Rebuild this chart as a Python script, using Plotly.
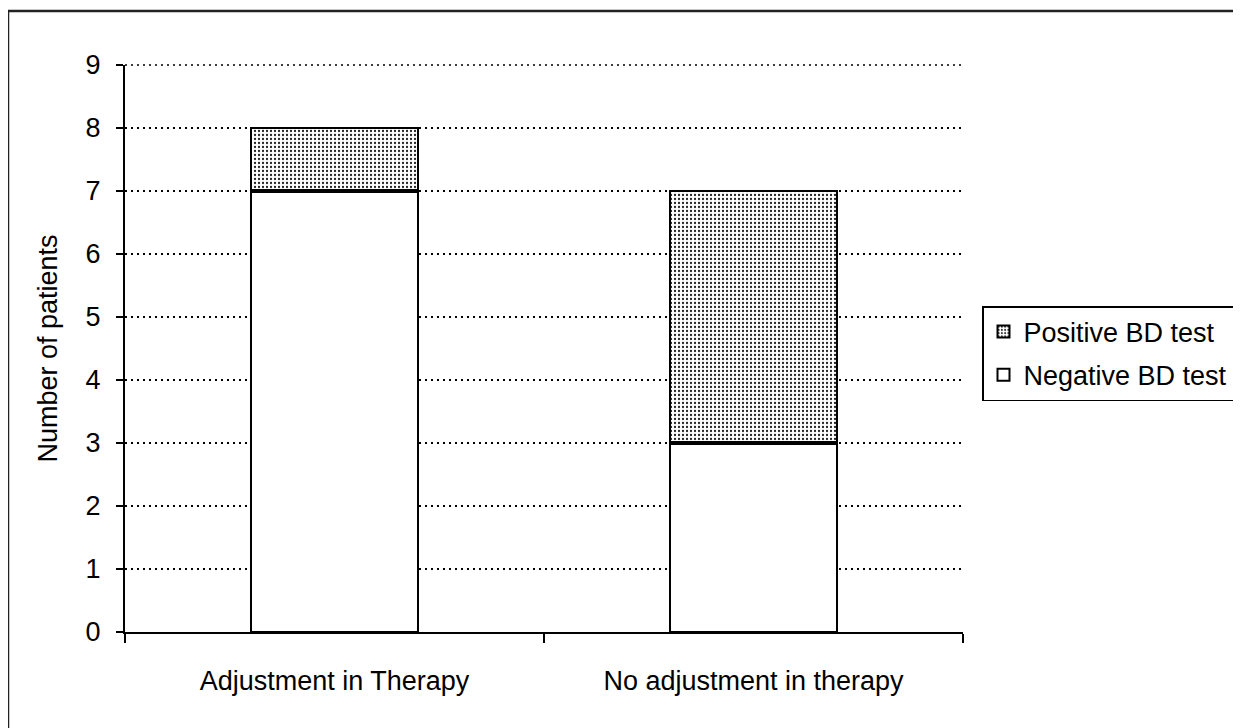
import plotly.graph_objects as go

categories = ["Adjustment in Therapy", "No adjustment in therapy"]
negative = [7, 3]
positive = [1, 4]
series_names = ["Negative BD test", "Positive BD test"]
y_ticks = list(range(0, 10))

OFF = 8  # page body margin
W, H = 1241, 728
L, R, T, B = 125 - OFF, 963 - OFF, 65 - OFF, 632 - OFF  # plot area in figure pixels

def px(x):
    return (x - OFF - L) / (R - L)

def py(y):
    return (B - (y - OFF)) / (B - T)

FONT = "Liberation Sans, Arial, sans-serif"
FS = 27
BAR_W = 0.4
GRID_DASH = "2px,4px"

fig = go.Figure()
fig.add_trace(go.Bar(
    x=categories, y=negative, name=series_names[0], legendgroup="neg", legendrank=2,
    marker=dict(color="white", line=dict(color="black", width=2)),
    width=BAR_W,
))
fig.add_trace(go.Bar(
    x=categories, y=positive, name=series_names[1], legendgroup="pos", legendrank=1,
    marker=dict(color="white", line=dict(color="black", width=2),
                pattern=dict(shape=".", fgcolor="#222", bgcolor="white",
                             size=4, solidity=0.25, fillmode="replace")),
    width=BAR_W,
))

shapes = [
    dict(type="line", xref="paper", yref="paper",
         x0=px(8), y0=py(11), x1=px(1260), y1=py(11),
         line=dict(color="#222", width=2.5)),
    dict(type="line", xref="paper", yref="paper",
         x0=px(8), y0=py(11), x1=px(8), y1=py(760),
         line=dict(color="#222", width=2.5)),
    # top gridline (at the axis maximum, i.e. the top of the plot area)
    dict(type="line", xref="paper", yref="paper", layer="below",
         x0=0, x1=1, y0=1, y1=1,
         line=dict(color="black", width=1.5, dash=GRID_DASH)),
]
# thicker boundary between stacked segments
for i, v in enumerate(negative):
    shapes.append(dict(type="line", xref="x", yref="y",
                       x0=i - BAR_W / 2, x1=i + BAR_W / 2, y0=v, y1=v,
                       line=dict(color="black", width=4)))

fig.update_layout(
    width=W, height=H,
    margin=dict(l=L, r=W - R, t=T, b=H - B, pad=0),
    barmode="stack",
    plot_bgcolor="white", paper_bgcolor="white",
    font=dict(family=FONT, size=FS, color="black"),
    showlegend=True,
    legend=dict(
        x=px(982), y=py(306), xanchor="left", yanchor="top",
        bordercolor="black", borderwidth=1.5, bgcolor="white",
        traceorder="grouped", font=dict(size=FS, family=FONT),
        itemwidth=30, tracegroupgap=5,
    ),
    shapes=shapes,
    xaxis=dict(
        showline=True, linecolor="black", linewidth=2,
        ticks="outside", tickson="boundaries", ticklen=9, tickcolor="black", tickwidth=2,
        showgrid=False, ticklabelstandoff=24,
        tickfont=dict(size=FS, family=FONT),
    ),
    yaxis=dict(
        range=[0, y_ticks[-1]], tickvals=y_ticks, ticktext=[str(v) for v in y_ticks],
        showline=True, linecolor="black", linewidth=2,
        ticks="outside", ticklen=7, tickcolor="black", tickwidth=2,
        showgrid=True, gridcolor="black", gridwidth=1.5, griddash=GRID_DASH,
        zeroline=False, ticklabelstandoff=10,
        title=dict(text="Number of patients", font=dict(size=FS, family=FONT), standoff=20),
        tickfont=dict(size=FS, family=FONT),
    ),
)

fig.write_html("out.html")
